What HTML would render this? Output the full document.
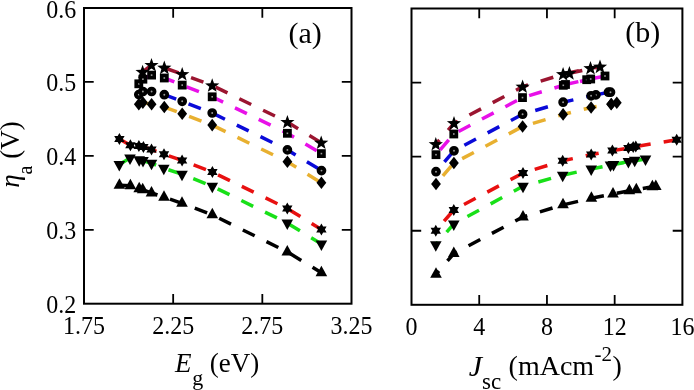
<!DOCTYPE html><html><head><meta charset="utf-8"><style>html,body{margin:0;padding:0;background:#fff;width:694px;height:390px;overflow:hidden}svg{display:block;will-change:transform}text{font-family:"Liberation Serif",serif;fill:#000}</style></head><body>
<svg width="694" height="390" viewBox="0 0 694 390">
<polyline points="142.60,72.00 151.50,65.10 164.30,67.80 182.20,74.20 212.20,85.50 287.40,122.10 321.20,142.70" fill="none" stroke="#9b1530" stroke-width="3.5" stroke-dasharray="13.2 13.2" stroke-linecap="butt" stroke-linejoin="miter"/>
<polygon points="142.60,64.80 144.41,69.81 149.73,69.98 145.52,73.25 147.01,78.37 142.60,75.38 138.19,78.37 139.68,73.25 135.47,69.98 140.79,69.81" fill="#000"/>
<polygon points="151.50,57.90 153.31,62.91 158.63,63.08 154.42,66.35 155.91,71.47 151.50,68.47 147.09,71.47 148.58,66.35 144.37,63.08 149.69,62.91" fill="#000"/>
<polygon points="164.30,60.60 166.11,65.61 171.43,65.78 167.22,69.05 168.71,74.17 164.30,71.17 159.89,74.17 161.38,69.05 157.17,65.78 162.49,65.61" fill="#000"/>
<polygon points="182.20,67.00 184.01,72.01 189.33,72.18 185.12,75.45 186.61,80.57 182.20,77.58 177.79,80.57 179.28,75.45 175.07,72.18 180.39,72.01" fill="#000"/>
<polygon points="212.20,78.30 214.01,83.31 219.33,83.48 215.12,86.75 216.61,91.87 212.20,88.88 207.79,91.87 209.28,86.75 205.07,83.48 210.39,83.31" fill="#000"/>
<polygon points="287.40,114.90 289.21,119.91 294.53,120.08 290.32,123.35 291.81,128.47 287.40,125.47 282.99,128.47 284.48,123.35 280.27,120.08 285.59,119.91" fill="#000"/>
<polygon points="321.20,135.50 323.01,140.51 328.33,140.68 324.12,143.95 325.61,149.07 321.20,146.07 316.79,149.07 318.28,143.95 314.07,140.68 319.39,140.51" fill="#000"/>
<polyline points="138.80,83.80 142.90,79.20 151.60,75.10 164.30,78.00 182.20,85.10 212.20,96.80 287.40,133.30 321.40,153.60" fill="none" stroke="#e810e8" stroke-width="3.5" stroke-dasharray="13.2 13.2" stroke-linecap="butt" stroke-linejoin="miter"/>
<rect x="136.20" y="81.20" width="5.20" height="5.20" fill="#999" stroke="#000" stroke-width="3.6"/>
<rect x="140.30" y="76.60" width="5.20" height="5.20" fill="#999" stroke="#000" stroke-width="3.6"/>
<rect x="149.00" y="72.50" width="5.20" height="5.20" fill="#999" stroke="#000" stroke-width="3.6"/>
<rect x="161.70" y="75.40" width="5.20" height="5.20" fill="#999" stroke="#000" stroke-width="3.6"/>
<rect x="179.60" y="82.50" width="5.20" height="5.20" fill="#999" stroke="#000" stroke-width="3.6"/>
<rect x="209.60" y="94.20" width="5.20" height="5.20" fill="#999" stroke="#000" stroke-width="3.6"/>
<rect x="284.80" y="130.70" width="5.20" height="5.20" fill="#999" stroke="#000" stroke-width="3.6"/>
<rect x="318.80" y="151.00" width="5.20" height="5.20" fill="#999" stroke="#000" stroke-width="3.6"/>
<polyline points="138.80,94.60 142.90,91.50 151.60,91.50 164.30,94.70 182.20,101.30 212.20,113.00 287.40,149.90 321.50,170.60" fill="none" stroke="#0a0ad8" stroke-width="3.5" stroke-dasharray="13.2 13.2" stroke-linecap="butt" stroke-linejoin="miter"/>
<circle cx="138.80" cy="94.60" r="2.90" fill="#999" stroke="#000" stroke-width="3.9"/>
<circle cx="142.90" cy="91.50" r="2.90" fill="#999" stroke="#000" stroke-width="3.9"/>
<circle cx="151.60" cy="91.50" r="2.90" fill="#999" stroke="#000" stroke-width="3.9"/>
<circle cx="164.30" cy="94.70" r="2.90" fill="#999" stroke="#000" stroke-width="3.9"/>
<circle cx="182.20" cy="101.30" r="2.90" fill="#999" stroke="#000" stroke-width="3.9"/>
<circle cx="212.20" cy="113.00" r="2.90" fill="#999" stroke="#000" stroke-width="3.9"/>
<circle cx="287.40" cy="149.90" r="2.90" fill="#999" stroke="#000" stroke-width="3.9"/>
<circle cx="321.50" cy="170.60" r="2.90" fill="#999" stroke="#000" stroke-width="3.9"/>
<polyline points="138.80,104.30 142.90,102.60 151.60,104.30 164.30,107.00 182.20,113.70 212.20,125.10 287.40,161.80 321.40,182.80" fill="none" stroke="#e8b030" stroke-width="3.5" stroke-dasharray="13.2 13.2" stroke-linecap="butt" stroke-linejoin="miter"/>
<polygon points="138.80,98.00 143.70,104.30 138.80,110.60 133.90,104.30" fill="#000"/>
<polygon points="142.90,96.30 147.80,102.60 142.90,108.90 138.00,102.60" fill="#000"/>
<polygon points="151.60,98.00 156.50,104.30 151.60,110.60 146.70,104.30" fill="#000"/>
<polygon points="164.30,100.70 169.20,107.00 164.30,113.30 159.40,107.00" fill="#000"/>
<polygon points="182.20,107.40 187.10,113.70 182.20,120.00 177.30,113.70" fill="#000"/>
<polygon points="212.20,118.80 217.10,125.10 212.20,131.40 207.30,125.10" fill="#000"/>
<polygon points="287.40,155.50 292.30,161.80 287.40,168.10 282.50,161.80" fill="#000"/>
<polygon points="321.40,176.50 326.30,182.80 321.40,189.10 316.50,182.80" fill="#000"/>
<polyline points="119.40,138.90 130.40,145.30 138.90,146.00 143.40,147.00 151.50,149.50 164.00,154.20 182.10,160.50 212.40,172.10 287.30,208.50 321.40,229.60" fill="none" stroke="#e81010" stroke-width="3.5" stroke-dasharray="13.2 13.2" stroke-linecap="butt" stroke-linejoin="miter"/>
<polygon points="119.40,132.90 121.13,135.90 124.60,135.90 122.86,138.90 124.60,141.90 121.13,141.90 119.40,144.90 117.67,141.90 114.20,141.90 115.94,138.90 114.20,135.90 117.67,135.90" fill="#000"/>
<polygon points="130.40,139.30 132.13,142.30 135.60,142.30 133.86,145.30 135.60,148.30 132.13,148.30 130.40,151.30 128.67,148.30 125.20,148.30 126.94,145.30 125.20,142.30 128.67,142.30" fill="#000"/>
<polygon points="138.90,140.00 140.63,143.00 144.10,143.00 142.36,146.00 144.10,149.00 140.63,149.00 138.90,152.00 137.17,149.00 133.70,149.00 135.44,146.00 133.70,143.00 137.17,143.00" fill="#000"/>
<polygon points="143.40,141.00 145.13,144.00 148.60,144.00 146.86,147.00 148.60,150.00 145.13,150.00 143.40,153.00 141.67,150.00 138.20,150.00 139.94,147.00 138.20,144.00 141.67,144.00" fill="#000"/>
<polygon points="151.50,143.50 153.23,146.50 156.70,146.50 154.96,149.50 156.70,152.50 153.23,152.50 151.50,155.50 149.77,152.50 146.30,152.50 148.04,149.50 146.30,146.50 149.77,146.50" fill="#000"/>
<polygon points="164.00,148.20 165.73,151.20 169.20,151.20 167.46,154.20 169.20,157.20 165.73,157.20 164.00,160.20 162.27,157.20 158.80,157.20 160.54,154.20 158.80,151.20 162.27,151.20" fill="#000"/>
<polygon points="182.10,154.50 183.83,157.50 187.30,157.50 185.56,160.50 187.30,163.50 183.83,163.50 182.10,166.50 180.37,163.50 176.90,163.50 178.64,160.50 176.90,157.50 180.37,157.50" fill="#000"/>
<polygon points="212.40,166.10 214.13,169.10 217.60,169.10 215.86,172.10 217.60,175.10 214.13,175.10 212.40,178.10 210.67,175.10 207.20,175.10 208.94,172.10 207.20,169.10 210.67,169.10" fill="#000"/>
<polygon points="287.30,202.50 289.03,205.50 292.50,205.50 290.76,208.50 292.50,211.50 289.03,211.50 287.30,214.50 285.57,211.50 282.10,211.50 283.84,208.50 282.10,205.50 285.57,205.50" fill="#000"/>
<polygon points="321.40,223.60 323.13,226.60 326.60,226.60 324.86,229.60 326.60,232.60 323.13,232.60 321.40,235.60 319.67,232.60 316.20,232.60 317.94,229.60 316.20,226.60 319.67,226.60" fill="#000"/>
<polyline points="119.30,164.45 130.00,158.05 139.20,159.75 143.00,160.55 151.50,163.25 163.80,168.25 182.00,174.25 212.30,186.25 287.30,223.05 321.40,243.95" fill="none" stroke="#18e018" stroke-width="3.5" stroke-dasharray="13.2 13.2" stroke-linecap="butt" stroke-linejoin="miter"/>
<polygon points="113.50,160.95 125.10,160.95 119.30,171.45" fill="#000"/>
<polygon points="124.20,154.55 135.80,154.55 130.00,165.05" fill="#000"/>
<polygon points="133.40,156.25 145.00,156.25 139.20,166.75" fill="#000"/>
<polygon points="137.20,157.05 148.80,157.05 143.00,167.55" fill="#000"/>
<polygon points="145.70,159.75 157.30,159.75 151.50,170.25" fill="#000"/>
<polygon points="158.00,164.75 169.60,164.75 163.80,175.25" fill="#000"/>
<polygon points="176.20,170.75 187.80,170.75 182.00,181.25" fill="#000"/>
<polygon points="206.50,182.75 218.10,182.75 212.30,193.25" fill="#000"/>
<polygon points="281.50,219.55 293.10,219.55 287.30,230.05" fill="#000"/>
<polygon points="315.60,240.45 327.20,240.45 321.40,250.95" fill="#000"/>
<polyline points="119.40,185.25 130.40,185.75 139.20,188.65 142.70,189.75 151.50,192.95 164.00,197.15 182.00,203.35 212.30,214.85 287.30,251.95 321.40,272.75" fill="none" stroke="#000" stroke-width="3.5" stroke-dasharray="13.2 13.2" stroke-linecap="butt" stroke-linejoin="miter"/>
<polygon points="113.60,188.75 125.20,188.75 119.40,178.25" fill="#000"/>
<polygon points="124.60,189.25 136.20,189.25 130.40,178.75" fill="#000"/>
<polygon points="133.40,192.15 145.00,192.15 139.20,181.65" fill="#000"/>
<polygon points="136.90,193.25 148.50,193.25 142.70,182.75" fill="#000"/>
<polygon points="145.70,196.45 157.30,196.45 151.50,185.95" fill="#000"/>
<polygon points="158.20,200.65 169.80,200.65 164.00,190.15" fill="#000"/>
<polygon points="176.20,206.85 187.80,206.85 182.00,196.35" fill="#000"/>
<polygon points="206.50,218.35 218.10,218.35 212.30,207.85" fill="#000"/>
<polygon points="281.50,255.45 293.10,255.45 287.30,244.95" fill="#000"/>
<polygon points="315.60,276.25 327.20,276.25 321.40,265.75" fill="#000"/>
<polyline points="569.40,73.30 600.00,66.80 590.50,68.20 563.10,74.20 522.60,86.70 454.00,123.30 435.80,144.20" fill="none" stroke="#9b1530" stroke-width="3.5" stroke-dasharray="13.2 13.2" stroke-linecap="butt" stroke-linejoin="miter"/>
<polygon points="569.40,66.10 571.21,71.11 576.53,71.28 572.32,74.55 573.81,79.67 569.40,76.67 564.99,79.67 566.48,74.55 562.27,71.28 567.59,71.11" fill="#000"/>
<polygon points="600.00,59.60 601.81,64.61 607.13,64.78 602.92,68.05 604.41,73.17 600.00,70.17 595.59,73.17 597.08,68.05 592.87,64.78 598.19,64.61" fill="#000"/>
<polygon points="590.50,61.00 592.31,66.01 597.63,66.18 593.42,69.45 594.91,74.57 590.50,71.58 586.09,74.57 587.58,69.45 583.37,66.18 588.69,66.01" fill="#000"/>
<polygon points="563.10,67.00 564.91,72.01 570.23,72.18 566.02,75.45 567.51,80.57 563.10,77.58 558.69,80.57 560.18,75.45 555.97,72.18 561.29,72.01" fill="#000"/>
<polygon points="522.60,79.50 524.41,84.51 529.73,84.68 525.52,87.95 527.01,93.07 522.60,90.08 518.19,93.07 519.68,87.95 515.47,84.68 520.79,84.51" fill="#000"/>
<polygon points="454.00,116.10 455.81,121.11 461.13,121.28 456.92,124.55 458.41,129.67 454.00,126.67 449.59,129.67 451.08,124.55 446.87,121.28 452.19,121.11" fill="#000"/>
<polygon points="435.80,137.00 437.61,142.01 442.93,142.18 438.72,145.45 440.21,150.57 435.80,147.57 431.39,150.57 432.88,145.45 428.67,142.18 433.99,142.01" fill="#000"/>
<polyline points="565.50,84.50 586.70,79.70 605.00,76.00 590.70,79.00 563.30,85.30 522.50,97.60 453.80,134.00 436.00,154.70" fill="none" stroke="#e810e8" stroke-width="3.5" stroke-dasharray="13.2 13.2" stroke-linecap="butt" stroke-linejoin="miter"/>
<rect x="562.90" y="81.90" width="5.20" height="5.20" fill="#999" stroke="#000" stroke-width="3.6"/>
<rect x="584.10" y="77.10" width="5.20" height="5.20" fill="#999" stroke="#000" stroke-width="3.6"/>
<rect x="602.40" y="73.40" width="5.20" height="5.20" fill="#999" stroke="#000" stroke-width="3.6"/>
<rect x="588.10" y="76.40" width="5.20" height="5.20" fill="#999" stroke="#000" stroke-width="3.6"/>
<rect x="560.70" y="82.70" width="5.20" height="5.20" fill="#999" stroke="#000" stroke-width="3.6"/>
<rect x="519.90" y="95.00" width="5.20" height="5.20" fill="#999" stroke="#000" stroke-width="3.6"/>
<rect x="451.20" y="131.40" width="5.20" height="5.20" fill="#999" stroke="#000" stroke-width="3.6"/>
<rect x="433.40" y="152.10" width="5.20" height="5.20" fill="#999" stroke="#000" stroke-width="3.6"/>
<polyline points="595.90,94.90 608.50,92.20 610.50,92.20 591.10,95.80 563.10,102.20 522.60,114.20 454.00,150.80 436.00,171.70" fill="none" stroke="#0a0ad8" stroke-width="3.5" stroke-dasharray="13.2 13.2" stroke-linecap="butt" stroke-linejoin="miter"/>
<circle cx="595.90" cy="94.90" r="2.90" fill="#999" stroke="#000" stroke-width="3.9"/>
<circle cx="608.50" cy="92.20" r="2.90" fill="#999" stroke="#000" stroke-width="3.9"/>
<circle cx="610.50" cy="92.20" r="2.90" fill="#999" stroke="#000" stroke-width="3.9"/>
<circle cx="591.10" cy="95.80" r="2.90" fill="#999" stroke="#000" stroke-width="3.9"/>
<circle cx="563.10" cy="102.20" r="2.90" fill="#999" stroke="#000" stroke-width="3.9"/>
<circle cx="522.60" cy="114.20" r="2.90" fill="#999" stroke="#000" stroke-width="3.9"/>
<circle cx="454.00" cy="150.80" r="2.90" fill="#999" stroke="#000" stroke-width="3.9"/>
<circle cx="436.00" cy="171.70" r="2.90" fill="#999" stroke="#000" stroke-width="3.9"/>
<polyline points="611.10,104.20 616.80,102.70 611.30,104.00 591.10,107.50 563.10,114.40 522.60,126.50 453.90,163.00 436.00,184.00" fill="none" stroke="#e8b030" stroke-width="3.5" stroke-dasharray="13.2 13.2" stroke-linecap="butt" stroke-linejoin="miter"/>
<polygon points="611.10,97.90 616.00,104.20 611.10,110.50 606.20,104.20" fill="#000"/>
<polygon points="616.80,96.40 621.70,102.70 616.80,109.00 611.90,102.70" fill="#000"/>
<polygon points="611.30,97.70 616.20,104.00 611.30,110.30 606.40,104.00" fill="#000"/>
<polygon points="591.10,101.20 596.00,107.50 591.10,113.80 586.20,107.50" fill="#000"/>
<polygon points="563.10,108.10 568.00,114.40 563.10,120.70 558.20,114.40" fill="#000"/>
<polygon points="522.60,120.20 527.50,126.50 522.60,132.80 517.70,126.50" fill="#000"/>
<polygon points="453.90,156.70 458.80,163.00 453.90,169.30 449.00,163.00" fill="#000"/>
<polygon points="436.00,177.70 440.90,184.00 436.00,190.30 431.10,184.00" fill="#000"/>
<polyline points="676.70,139.80 635.80,146.50 633.20,147.10 628.40,148.10 612.40,150.60 591.20,154.60 562.70,160.80 523.00,173.00 453.80,210.00 435.80,230.80" fill="none" stroke="#e81010" stroke-width="3.5" stroke-dasharray="13.2 13.2" stroke-linecap="butt" stroke-linejoin="miter"/>
<polygon points="676.70,133.80 678.43,136.80 681.90,136.80 680.16,139.80 681.90,142.80 678.43,142.80 676.70,145.80 674.97,142.80 671.50,142.80 673.24,139.80 671.50,136.80 674.97,136.80" fill="#000"/>
<polygon points="635.80,140.50 637.53,143.50 641.00,143.50 639.26,146.50 641.00,149.50 637.53,149.50 635.80,152.50 634.07,149.50 630.60,149.50 632.34,146.50 630.60,143.50 634.07,143.50" fill="#000"/>
<polygon points="633.20,141.10 634.93,144.10 638.40,144.10 636.66,147.10 638.40,150.10 634.93,150.10 633.20,153.10 631.47,150.10 628.00,150.10 629.74,147.10 628.00,144.10 631.47,144.10" fill="#000"/>
<polygon points="628.40,142.10 630.13,145.10 633.60,145.10 631.86,148.10 633.60,151.10 630.13,151.10 628.40,154.10 626.67,151.10 623.20,151.10 624.94,148.10 623.20,145.10 626.67,145.10" fill="#000"/>
<polygon points="612.40,144.60 614.13,147.60 617.60,147.60 615.86,150.60 617.60,153.60 614.13,153.60 612.40,156.60 610.67,153.60 607.20,153.60 608.94,150.60 607.20,147.60 610.67,147.60" fill="#000"/>
<polygon points="591.20,148.60 592.93,151.60 596.40,151.60 594.66,154.60 596.40,157.60 592.93,157.60 591.20,160.60 589.47,157.60 586.00,157.60 587.74,154.60 586.00,151.60 589.47,151.60" fill="#000"/>
<polygon points="562.70,154.80 564.43,157.80 567.90,157.80 566.16,160.80 567.90,163.80 564.43,163.80 562.70,166.80 560.97,163.80 557.50,163.80 559.24,160.80 557.50,157.80 560.97,157.80" fill="#000"/>
<polygon points="523.00,167.00 524.73,170.00 528.20,170.00 526.46,173.00 528.20,176.00 524.73,176.00 523.00,179.00 521.27,176.00 517.80,176.00 519.54,173.00 517.80,170.00 521.27,170.00" fill="#000"/>
<polygon points="453.80,204.00 455.53,207.00 459.00,207.00 457.26,210.00 459.00,213.00 455.53,213.00 453.80,216.00 452.07,213.00 448.60,213.00 450.34,210.00 448.60,207.00 452.07,207.00" fill="#000"/>
<polygon points="435.80,224.80 437.53,227.80 441.00,227.80 439.26,230.80 441.00,233.80 437.53,233.80 435.80,236.80 434.07,233.80 430.60,233.80 432.34,230.80 430.60,227.80 434.07,227.80" fill="#000"/>
<polyline points="610.50,165.05 645.50,159.05 634.70,160.25 628.40,161.45 613.50,164.55 591.20,169.05 562.70,175.15 523.00,186.25 453.80,223.95 435.80,244.65" fill="none" stroke="#18e018" stroke-width="3.5" stroke-dasharray="13.2 13.2" stroke-linecap="butt" stroke-linejoin="miter"/>
<polygon points="604.70,161.55 616.30,161.55 610.50,172.05" fill="#000"/>
<polygon points="639.70,155.55 651.30,155.55 645.50,166.05" fill="#000"/>
<polygon points="628.90,156.75 640.50,156.75 634.70,167.25" fill="#000"/>
<polygon points="622.60,157.95 634.20,157.95 628.40,168.45" fill="#000"/>
<polygon points="607.70,161.05 619.30,161.05 613.50,171.55" fill="#000"/>
<polygon points="585.40,165.55 597.00,165.55 591.20,176.05" fill="#000"/>
<polygon points="556.90,171.65 568.50,171.65 562.70,182.15" fill="#000"/>
<polygon points="517.20,182.75 528.80,182.75 523.00,193.25" fill="#000"/>
<polygon points="448.00,220.45 459.60,220.45 453.80,230.95" fill="#000"/>
<polygon points="430.00,241.15 441.60,241.15 435.80,251.65" fill="#000"/>
<polyline points="655.80,186.45 652.40,186.75 636.30,189.75 629.40,190.75 613.00,194.05 591.40,198.25 563.00,204.85 523.00,216.95 453.80,253.55 436.00,274.25" fill="none" stroke="#000" stroke-width="3.5" stroke-dasharray="13.2 13.2" stroke-linecap="butt" stroke-linejoin="miter"/>
<polygon points="650.00,189.95 661.60,189.95 655.80,179.45" fill="#000"/>
<polygon points="646.60,190.25 658.20,190.25 652.40,179.75" fill="#000"/>
<polygon points="630.50,193.25 642.10,193.25 636.30,182.75" fill="#000"/>
<polygon points="623.60,194.25 635.20,194.25 629.40,183.75" fill="#000"/>
<polygon points="607.20,197.55 618.80,197.55 613.00,187.05" fill="#000"/>
<polygon points="585.60,201.75 597.20,201.75 591.40,191.25" fill="#000"/>
<polygon points="557.20,208.35 568.80,208.35 563.00,197.85" fill="#000"/>
<polygon points="517.20,220.45 528.80,220.45 523.00,209.95" fill="#000"/>
<polygon points="448.00,257.05 459.60,257.05 453.80,246.55" fill="#000"/>
<polygon points="430.20,277.75 441.80,277.75 436.00,267.25" fill="#000"/>
<rect x="84.0" y="8.0" width="267.50" height="295.70" fill="none" stroke="#000" stroke-width="2.0" stroke-linejoin="miter" stroke-linecap="square"/>
<rect x="411.5" y="8.5" width="270.90" height="296.30" fill="none" stroke="#000" stroke-width="2.0" stroke-linejoin="miter" stroke-linecap="square"/>
<path d="M173.17 8.0V17.70M173.17 303.7V294.00M262.33 8.0V17.70M262.33 303.7V294.00M84.0 229.78H93.70M351.5 229.78H341.80M84.0 155.85H93.70M351.5 155.85H341.80M84.0 81.93H93.70M351.5 81.93H341.80" stroke="#000" stroke-width="1.8" fill="none"/>
<path d="M479.23 8.5V18.20M479.23 304.8V295.10M546.95 8.5V18.20M546.95 304.8V295.10M614.67 8.5V18.20M614.67 304.8V295.10M411.5 230.73H421.20M682.4 230.73H672.70M411.5 156.65H421.20M682.4 156.65H672.70M411.5 82.58H421.20M682.4 82.58H672.70" stroke="#000" stroke-width="1.8" fill="none"/>
<text transform="translate(76.30,313.20) scale(1.0,1.08)" font-size="24" text-anchor="end">0.2</text>
<text transform="translate(76.30,239.28) scale(1.0,1.08)" font-size="24" text-anchor="end">0.3</text>
<text transform="translate(76.30,165.35) scale(1.0,1.08)" font-size="24" text-anchor="end">0.4</text>
<text transform="translate(76.30,91.43) scale(1.0,1.08)" font-size="24" text-anchor="end">0.5</text>
<text transform="translate(76.30,17.50) scale(1.0,1.08)" font-size="24" text-anchor="end">0.6</text>
<text transform="translate(84.00,334.30) scale(1.0,1.08)" font-size="24" text-anchor="middle">1.75</text>
<text transform="translate(173.17,334.30) scale(1.0,1.08)" font-size="24" text-anchor="middle">2.25</text>
<text transform="translate(262.33,334.30) scale(1.0,1.08)" font-size="24" text-anchor="middle">2.75</text>
<text transform="translate(351.50,334.30) scale(1.0,1.08)" font-size="24" text-anchor="middle">3.25</text>
<text transform="translate(411.50,335.00) scale(1.0,1.08)" font-size="24" text-anchor="middle">0</text>
<text transform="translate(479.23,335.00) scale(1.0,1.08)" font-size="24" text-anchor="middle">4</text>
<text transform="translate(546.95,335.00) scale(1.0,1.08)" font-size="24" text-anchor="middle">8</text>
<text transform="translate(614.67,335.00) scale(1.0,1.08)" font-size="24" text-anchor="middle">12</text>
<text transform="translate(682.40,335.00) scale(1.0,1.08)" font-size="24" text-anchor="middle">16</text>
<text x="175.1" y="372.2" font-size="27" font-style="italic">E</text>
<text x="192.3" y="384.6" font-size="22">g</text>
<text x="209.7" y="372.2" font-size="27">(eV)</text>
<text x="468.7" y="376.1" font-size="30" font-style="italic">J</text>
<text x="482" y="389.4" font-size="23">sc</text>
<text x="508.6" y="375.2" font-size="28">(mAcm</text>
<text x="594.6" y="361.1" font-size="21">-2</text>
<text x="612.6" y="375.2" font-size="28">)</text>
<text transform="translate(19.3,187.8) rotate(-90)" font-size="27"><tspan font-style="italic">η</tspan><tspan font-size="20" dy="13">a</tspan><tspan dy="-13"> (V)</tspan></text>
<text x="288.4" y="42.9" font-size="30">(a)</text>
<text x="625.2" y="42.4" font-size="30">(b)</text>
</svg></body></html>
